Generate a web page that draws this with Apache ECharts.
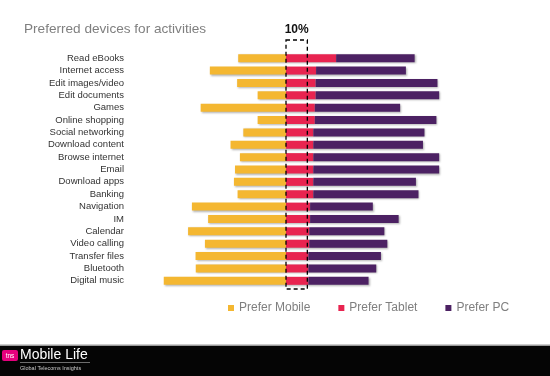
<!DOCTYPE html>
<html>
<head>
<meta charset="utf-8">
<title>Preferred devices for activities</title>
<script src="https://cdn.jsdelivr.net/npm/echarts@6/dist/echarts.min.js"></script>
<style>
  html, body { margin: 0; padding: 0; background: #fff; }
  #root { width: 550px; height: 376px; }
</style>
</head>
<body>
<div id="root"></div>
<script>
// rows, top to bottom
var categories = ['Read eBooks', 'Internet access', 'Edit images/video', 'Edit documents', 'Games',
    'Online shopping', 'Social networking', 'Download content', 'Browse internet', 'Email',
    'Download apps', 'Banking', 'Navigation', 'IM', 'Calendar', 'Video calling',
    'Transfer files', 'Bluetooth', 'Digital music'];
// % preferring each device (mobile drawn to the left)
var mobile = [22.4, 35.7, 22.9, 13.3, 40, 13.3, 20, 26, 21.6, 23.9, 24.4, 22.7, 44.1, 36.5, 45.9, 38, 42.4, 42.3, 57.3];
var tablet = [23.5, 14.1, 13.9, 13.9, 13.5, 13.5, 12.8, 12.8, 12.8, 12.8, 12.8, 12.8, 11.3, 11.3, 10.9, 10.9, 10.5, 10.5, 10.5];
var pc = [36.8, 42.1, 57.1, 57.9, 40, 57, 52.1, 51.4, 59, 59, 48.1, 49.3, 29.4, 41.5, 35.2, 36.6, 34, 31.8, 28.2];
var seriesNames = ['Prefer Mobile', 'Prefer Tablet', 'Prefer PC'];
var marker = 10; // dashed 10% band

var font = 'Liberation Sans, Arial, sans-serif';
var shadow = { shadowColor: 'rgba(0,0,0,0.3)', shadowBlur: 2, shadowOffsetX: 1, shadowOffsetY: 1 };

var myChart = echarts.init(document.getElementById('root'));

function barSeries(name, data, color) {
    return {
        name: name,
        type: 'bar',
        stack: 'dev',
        barWidth: 8,
        data: data,
        itemStyle: Object.assign({ color: color }, shadow)
    };
}

var option = {
    animation: false,
    color: ['#F4B731', '#E82450', '#4C2163'],
    title: {
        text: 'Preferred devices for activities',
        left: 19,
        top: 17,
        textStyle: { fontFamily: font, fontSize: 13.6, fontWeight: 'normal', color: '#7f7f7f' }
    },
    legend: {
        data: seriesNames,
        left: 223,
        top: 297,
        icon: 'rect',
        itemWidth: 6,
        itemHeight: 6,
        itemGap: 28,
        textStyle: { fontFamily: font, fontSize: 12, color: '#7f7f7f' }
    },
    grid: { left: 158, right: 104, top: 52, bottom: 89 },
    xAxis: {
        type: 'value',
        min: -60,
        max: 75,
        show: false,
        splitLine: { show: false }
    },
    yAxis: {
        type: 'category',
        inverse: true,
        data: categories,
        axisLine: { show: false },
        axisTick: { show: false },
        axisLabel: { interval: 0, margin: 34, fontFamily: font, fontSize: 9.5, color: '#333' }
    },
    series: [
        barSeries(seriesNames[0], mobile.map(function (v) { return -v; }), '#F4B731'),
        barSeries(seriesNames[1], tablet, '#E82450'),
        barSeries(seriesNames[2], pc, '#4C2163')
    ]
};
myChart.setOption(option);

// dashed 10% box and footer band
var x0 = myChart.convertToPixel({ xAxisIndex: 0 }, 0);
var x1 = myChart.convertToPixel({ xAxisIndex: 0 }, marker);
myChart.setOption({
    graphic: [
        {
            type: 'rect',
            shape: { x: x0, y: 40, width: x1 - x0, height: 249 },
            style: { fill: 'none', stroke: '#000', lineWidth: 1.3, lineDash: [4, 3] },
            z: 10
        },
        {
            type: 'text',
            x: (x0 + x1) / 2,
            y: 24,
            style: { text: marker + '%', fontFamily: font, fontSize: 12, fontWeight: 'bold', fill: '#111', align: 'center' }
        },
        { type: 'rect', shape: { x: 0, y: 345, width: 550, height: 31 }, style: { fill: '#050505' } },
        { type: 'rect', shape: { x: 0, y: 344.5, width: 550, height: 1.5 }, style: { fill: '#9a9a9a' } },
        { type: 'rect', shape: { x: 2, y: 350, width: 16, height: 11, r: 2 }, style: { fill: '#E5007D' } },
        { type: 'text', x: 10, y: 352.5, style: { text: 'tns', fontFamily: font, fontSize: 6.5, fill: '#fff', align: 'center' } },
        { type: 'text', x: 20, y: 348, style: { text: 'Mobile Life', fontFamily: font, fontSize: 14, fill: '#fff' } },
        { type: 'line', shape: { x1: 20, y1: 362.5, x2: 90, y2: 362.5 }, style: { stroke: '#888', lineWidth: 0.8 } },
        { type: 'text', x: 20, y: 365, style: { text: 'Global Telecoms Insights', fontFamily: font, fontSize: 5.5, fill: '#ccc' } }
    ]
});
</script>
</body>
</html>
